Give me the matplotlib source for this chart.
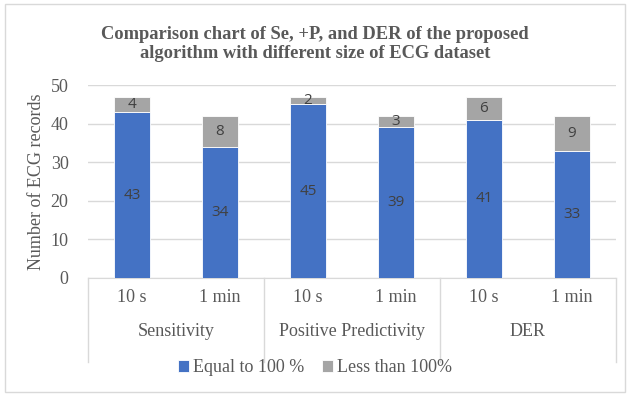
import matplotlib
matplotlib.use("Agg")
import matplotlib.pyplot as plt
from matplotlib.patches import Rectangle
import numpy as np

# Data
groups = ["Sensitivity", "Positive Predictivity", "DER"]
durations = ["10 s", "1 min"]
equal_100 = [43, 34, 45, 39, 41, 33]
less_100 = [4, 8, 2, 3, 6, 9]
series_names = ["Equal to 100 %", "Less than 100%"]

BLUE = "#4472C4"
GRAY = "#A5A5A5"
TXT = "#595959"
GRID = "#D9D9D9"
SERIF = "Liberation Serif"
FS = 13

W, H = 630, 396
fig = plt.figure(figsize=(W / 100, H / 100), dpi=100)

# chart border
fig.patches.append(Rectangle((5 / W, 4 / H), 620 / W, 388 / H, transform=fig.transFigure,
                             fill=False, edgecolor=GRID, linewidth=1.0))

left, right, top, bottom = 88, 616, 85, 278
ax = fig.add_axes([left / W, 1 - bottom / H, (right - left) / W, (bottom - top) / H])

x = np.arange(len(equal_100))
bw = 0.4
b1 = ax.bar(x, equal_100, bw, color=BLUE, edgecolor="white", linewidth=0.6,
            label=series_names[0], zorder=3)
b2 = ax.bar(x, less_100, bw, bottom=equal_100, color=GRAY, edgecolor="white",
            linewidth=0.6, label=series_names[1], zorder=3)

lab_font = dict(family="Open Sans", size=11, color="#404040")
for xi, v in zip(x, equal_100):
    ax.text(xi, v / 2, str(v), ha="center", va="center", zorder=4, **lab_font)
for xi, v, b in zip(x, less_100, equal_100):
    ax.text(xi, b + v / 2, str(v), ha="center", va="center", zorder=4, **lab_font)

ax.set_xlim(-0.5, len(x) - 0.5)
ax.set_ylim(0, 50)
ax.set_yticks(range(0, 51, 10))
ax.yaxis.grid(True, color=GRID, linewidth=1.0, zorder=0)
ax.set_axisbelow(True)
for s in ["left", "right", "top"]:
    ax.spines[s].set_visible(False)
ax.spines["bottom"].set_color(GRID)
ax.tick_params(axis="y", length=0, pad=14, labelsize=FS, labelcolor=TXT)
for t in ax.get_yticklabels():
    t.set_fontfamily(SERIF)
ax.set_xticks([])

ax.set_ylabel("Number of ECG records", family=SERIF, fontsize=FS, color=TXT, labelpad=4)

# multi-level category axis
trans = ax.get_xaxis_transform()
depth = -(362 - bottom) / (bottom - top)
for bx in np.arange(-0.5, len(x), 2):
    ax.plot([bx, bx], [0, depth], transform=trans, color=GRID, linewidth=1.0, clip_on=False)
row1 = -(298 - bottom) / (bottom - top)
row2 = -(331 - bottom) / (bottom - top)
for i, xi in enumerate(x):
    ax.text(xi, row1, durations[i % 2], transform=trans, ha="center", va="center",
            family=SERIF, fontsize=FS, color=TXT)
for g, name in enumerate(groups):
    ax.text(2 * g + 0.5, row2, name, transform=trans, ha="center", va="center",
            family=SERIF, fontsize=FS, color=TXT)

fig.text(0.5, 1 - 44 / H,
         "Comparison chart of Se, +P, and DER of the proposed\nalgorithm with different size of ECG dataset",
         ha="center", va="center", family=SERIF, fontweight="bold", fontsize=13.3,
         color=TXT, linespacing=1.2)

fig.legend(handles=[b1, b2], loc="center", bbox_to_anchor=(0.5, 1 - 368 / H), ncol=2,
           frameon=False, prop=dict(family=SERIF, size=FS), labelcolor=TXT,
           handlelength=0.6, handleheight=0.6, handletextpad=0.2, columnspacing=1.0)

fig.savefig("out.png", dpi=100)
